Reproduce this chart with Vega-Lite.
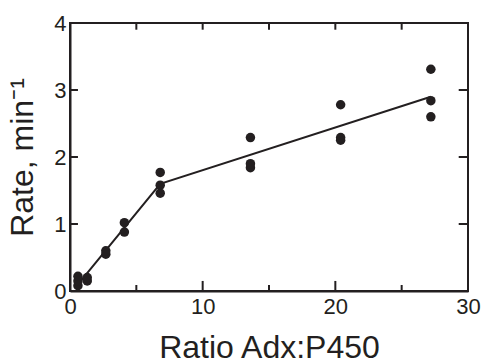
{
  "$schema": "https://vega.github.io/schema/vega-lite/v6.json",
  "width": 398,
  "height": 268,
  "autosize": {"type": "none"},
  "padding": {"left": 70, "top": 23, "right": 16, "bottom": 72},
  "background": "white",
  "config": {
    "view": {"stroke": "#231f20", "strokeWidth": 2},
    "font": "Liberation Sans",
    "axis": {
      "grid": false,
      "labelFlush": false,
      "labelOverlap": false,
      "domainColor": "#231f20",
      "domainWidth": 2,
      "labelColor": "#231f20",
      "titleColor": "#231f20",
      "labelFont": "Liberation Sans",
      "titleFont": "Liberation Sans",
      "labelFontSize": 22,
      "titleFontSize": 32,
      "titleFontWeight": "normal"
    }
  },
  "datasets": {
    "pts": [
      {"ratio": 0.6, "rate": 0.08},
      {"ratio": 0.6, "rate": 0.15},
      {"ratio": 0.6, "rate": 0.22},
      {"ratio": 1.3, "rate": 0.15},
      {"ratio": 1.3, "rate": 0.2},
      {"ratio": 2.7, "rate": 0.55},
      {"ratio": 2.7, "rate": 0.6},
      {"ratio": 4.1, "rate": 0.88},
      {"ratio": 4.1, "rate": 1.02},
      {"ratio": 6.8, "rate": 1.46},
      {"ratio": 6.8, "rate": 1.58},
      {"ratio": 6.8, "rate": 1.77},
      {"ratio": 13.6, "rate": 1.84},
      {"ratio": 13.6, "rate": 1.9},
      {"ratio": 13.6, "rate": 2.29},
      {"ratio": 20.4, "rate": 2.25},
      {"ratio": 20.4, "rate": 2.29},
      {"ratio": 20.4, "rate": 2.78},
      {"ratio": 27.2, "rate": 2.6},
      {"ratio": 27.2, "rate": 2.84},
      {"ratio": 27.2, "rate": 3.31}
    ],
    "fit": [
      {"ratio": 0.6, "rate": 0.1},
      {"ratio": 6.8, "rate": 1.6},
      {"ratio": 27.2, "rate": 2.9}
    ],
    "ticks": [
      {"ratio": 5, "ratio2": 5, "rate": 0, "rate2": 0.09},
      {"ratio": 10, "ratio2": 10, "rate": 0, "rate2": 0.15},
      {"ratio": 15, "ratio2": 15, "rate": 0, "rate2": 0.09},
      {"ratio": 20, "ratio2": 20, "rate": 0, "rate2": 0.15},
      {"ratio": 25, "ratio2": 25, "rate": 0, "rate2": 0.09},
      {"ratio": 5, "ratio2": 5, "rate": 4, "rate2": 3.9},
      {"ratio": 10, "ratio2": 10, "rate": 4, "rate2": 3.9},
      {"ratio": 15, "ratio2": 15, "rate": 4, "rate2": 3.9},
      {"ratio": 20, "ratio2": 20, "rate": 4, "rate2": 3.9},
      {"ratio": 25, "ratio2": 25, "rate": 4, "rate2": 3.9},
      {"ratio": 0, "ratio2": 0.6, "rate": 1, "rate2": 1},
      {"ratio": 0, "ratio2": 0.6, "rate": 2, "rate2": 2},
      {"ratio": 0, "ratio2": 0.6, "rate": 3, "rate2": 3},
      {"ratio": 30, "ratio2": 29.3, "rate": 1, "rate2": 1},
      {"ratio": 30, "ratio2": 29.3, "rate": 2, "rate2": 2},
      {"ratio": 30, "ratio2": 29.3, "rate": 3, "rate2": 3}
    ]
  },
  "encoding": {
    "x": {"field": "ratio", "type": "quantitative", "scale": {"domain": [0, 30], "nice": false},
      "axis": {"orient": "bottom", "ticks": false, "values": [0, 10, 20, 30], "labelPadding": 5, "title": "Ratio Adx:P450", "titlePadding": 15}},
    "y": {"field": "rate", "type": "quantitative", "scale": {"domain": [0, 4], "nice": false},
      "axis": {"orient": "left", "ticks": false, "values": [0, 1, 2, 3, 4], "labelPadding": 4, "title": "Rate, min⁻¹", "titlePadding": 14}}
  },
  "layer": [
    {
      "data": {"name": "ticks"},
      "mark": {"type": "rule", "color": "#231f20", "strokeWidth": 2},
      "encoding": {
        "x2": {"field": "ratio2"},
        "y2": {"field": "rate2"}
      }
    },
    {
      "data": {"name": "fit"},
      "mark": {"type": "line", "color": "#231f20", "strokeWidth": 2},
      "encoding": {}
    },
    {
      "data": {"name": "pts"},
      "mark": {"type": "point", "filled": true, "size": 90, "color": "#231f20", "opacity": 1},
      "encoding": {}
    }
  ]
}
